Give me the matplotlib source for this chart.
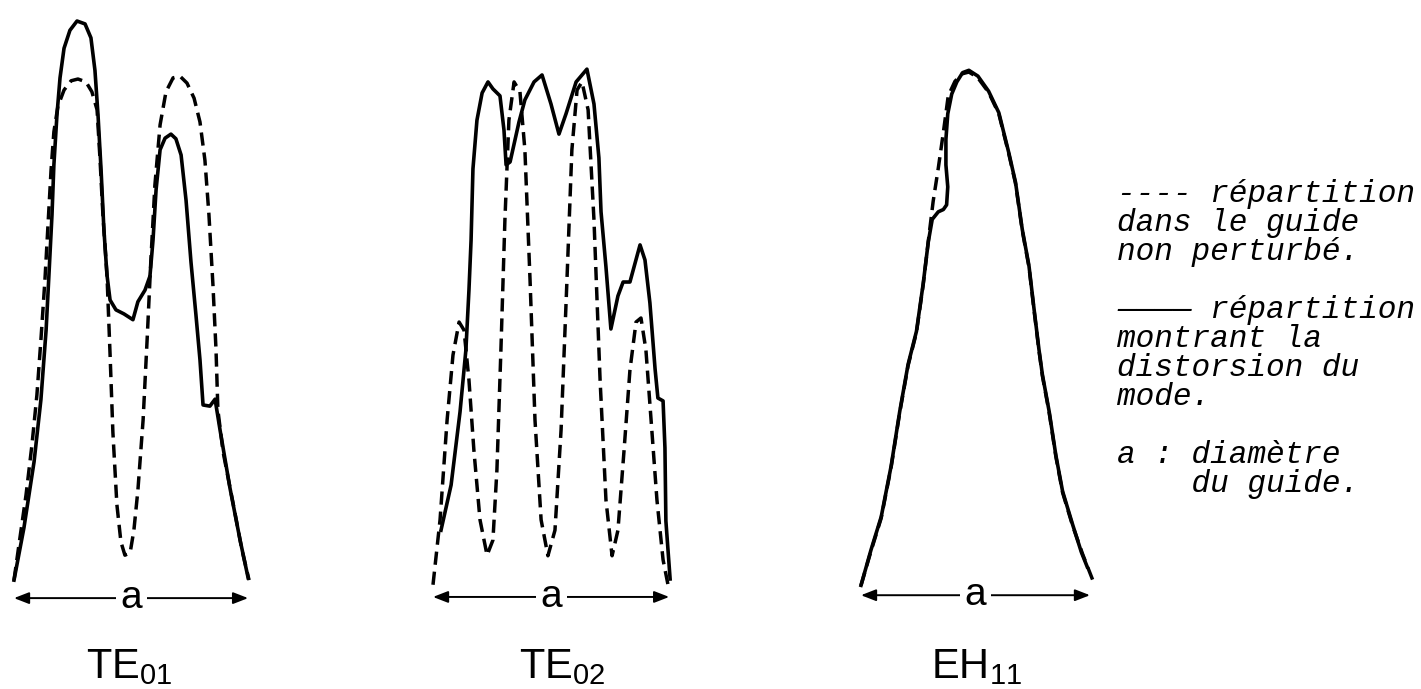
import matplotlib.pyplot as plt

plt.rcParams['font.family'] = ['Liberation Sans', 'DejaVu Sans']
plt.rcParams['mathtext.fontset'] = 'custom'
plt.rcParams['mathtext.rm'] = 'Liberation Sans'
plt.rcParams['mathtext.default'] = 'regular'

# position across the guide (% of diameter a) and relative amplitude (%)
te01_dash_x = [0, 2.1, 5.1, 7.6, 9.7, 11.4, 13.1, 14.4, 15.7, 16.9, 18.6, 21.2, 24.2, 27.1,
               30.5, 33.0, 35.2, 36.4, 37.7, 39.4, 40.7, 41.9, 43.6, 45.3, 47.0, 49.2, 50.8,
               52.5, 54.7, 56.4, 58.0, 59.7, 61.9, 64.4, 67.4, 70.3, 73.3, 76.3, 78.8, 80.9,
               82.6, 84.3, 85.6, 86.4, 88.6, 92.8, 96.6, 99.6]
te01_dash_y = [1.7, 7.8, 16.4, 25.0, 33.6, 43.1, 53.4, 62.9, 72.4, 79.0, 83.4, 86.2, 87.8, 88.1,
               87.6, 85.9, 82.8, 74.6, 64.5, 54.3, 40.7, 27.2, 14.7, 8.3, 6.0, 6.4, 10.3,
               17.2, 29.3, 43.1, 56.9, 69.8, 80.2, 85.9, 88.3, 88.6, 87.4, 84.8, 80.7, 74.1,
               64.7, 52.6, 41.4, 31.0, 23.8, 15.0, 6.9, 1.7]
te01_solid_x = [0, 4.2, 8.5, 11.4, 13.6, 14.8, 16.1, 16.9, 18.2, 19.5, 21.2, 23.7, 26.7, 30.1,
                32.6, 34.3, 35.6, 36.9, 38.1, 39.4, 40.7, 43.2, 46.6, 50.4, 52.5, 55.5, 57.6,
                58.9, 60.2, 61.9, 64.0, 66.5, 68.6, 70.8, 72.9, 75.0, 77.1, 78.8, 80.1, 83.0,
                85.2, 87.3, 91.5, 95.8, 99.2]
te01_solid_y = [1.7, 10.7, 22.1, 32.8, 44.8, 54.3, 64.7, 73.3, 81.9, 88.3, 93.4, 96.5, 98.1, 97.6,
                95.2, 89.6, 81.9, 72.4, 62.1, 54.3, 50.0, 48.3, 47.6, 46.6, 49.7, 51.7, 54.1,
                60.3, 69.0, 75.9, 77.9, 78.6, 77.8, 75.0, 67.2, 56.5, 47.4, 39.7, 31.9, 31.7,
                32.9, 27.6, 17.6, 8.6, 2.1]

te02_dash_x = [0, 3.0, 6.0, 8.5, 11.1, 13.2, 15.3, 17.4, 20.0, 23.0, 25.5, 27.2, 28.9, 30.6,
               32.3, 34.5, 37.0, 39.1, 41.3, 43.4, 46.0, 48.9, 51.9, 54.5, 57.0, 59.1, 61.3,
               63.4, 66.0, 68.5, 71.1, 73.6, 76.2, 78.7, 81.3, 83.8, 86.4, 88.5, 90.6, 92.8,
               95.3, 97.9, 100]
te02_dash_y = [0.9, 12.1, 29.3, 40.5, 46.2, 44.8, 36.2, 24.1, 12.1, 6.0, 8.6, 20.7, 41.4, 63.8,
               81.0, 87.6, 85.9, 75.9, 53.4, 29.3, 12.1, 5.9, 10.3, 27.6, 53.4, 75.9, 86.2,
               87.6, 82.8, 63.8, 36.2, 15.5, 5.9, 10.3, 24.1, 37.9, 46.2, 46.9, 41.4, 29.3,
               15.5, 5.2, 0.9]
te02_solid_x = [3.4, 7.7, 11.5, 14.0, 15.3, 16.2, 17.0, 18.7, 20.9, 23.4, 25.5, 28.5, 30.2, 31.1,
                32.8, 36.6, 39.1, 43.0, 46.4, 50.2, 53.6, 56.6, 60.9, 65.5, 68.5, 70.6, 71.5,
                73.6, 75.7, 78.7, 80.9, 83.8, 88.1, 90.2, 92.3, 94.5, 95.7, 97.9, 98.7, 99.1,
                100.9]
te02_solid_y = [10.3, 18.1, 30.7, 41.4, 51.7, 60.3, 72.6, 81.0, 85.7, 87.6, 86.4, 85.2, 79.3, 73.3,
                73.8, 80.7, 84.5, 87.6, 88.8, 83.8, 78.6, 82.1, 87.6, 89.8, 83.8, 74.5, 65.2,
                55.7, 45.0, 50.7, 53.1, 53.1, 59.5, 56.9, 49.5, 38.1, 33.1, 32.6, 24.5, 11.9,
                1.9]

eh11_dash_x = [0, 4.3, 8.7, 13.0, 16.7, 20.3, 23.9, 26.8, 29.0, 31.1, 33.3, 35.5, 37.6, 40.5,
               43.6, 46.5, 50.2, 55.0, 59.4, 63.7, 66.6, 69.5, 72.4, 74.6, 76.7, 78.2, 81.1,
               84.0, 86.9, 91.2, 95.6, 99.9]
eh11_dash_y = [0.8, 6.7, 12.4, 21.2, 30.6, 38.7, 44.4, 52.6, 60.1, 67.0, 72.7, 78.9, 85.2, 87.7,
               89.0, 89.3, 88.4, 85.8, 82.1, 75.2, 70.1, 62.0, 55.7, 48.2, 41.3, 36.9, 30.6,
               23.0, 16.8, 11.1, 6.1, 1.7]
eh11_solid_x = [0, 4.3, 8.7, 13.0, 16.7, 20.3, 23.9, 26.8, 29.0, 30.7, 33.3, 35.5, 36.9, 37.4,
                36.6, 36.6, 37.4, 39.1, 41.3, 43.8, 46.5, 50.4, 55.0, 59.4, 63.7, 66.6, 69.5,
                72.4, 74.6, 76.7, 78.2, 81.1, 84.0, 86.9, 91.2, 95.0, 97.5]
eh11_solid_y = [0.8, 6.9, 12.6, 21.4, 30.8, 38.9, 44.6, 52.8, 60.0, 63.9, 65.2, 65.6, 66.4, 69.5,
                73.3, 77.7, 82.1, 85.5, 87.6, 89.2, 89.6, 88.6, 86.0, 82.3, 75.4, 70.3, 62.2,
                55.9, 48.4, 41.5, 37.1, 30.8, 23.2, 17.0, 11.3, 6.5, 4.0]

mode_names = ['TE$_{01}$', 'TE$_{02}$', 'EH$_{11}$']

legend_lines = ['---- répartition', 'dans le guide', 'non perturbé.',
                '———— répartition', 'montrant la', 'distorsion du', 'mode.',
                'a : diamètre', '    du guide.']

W, H = 1421, 689
fig = plt.figure(figsize=(W / 100, H / 100), dpi=100)

panel_px = [(14, 250), (433, 668), (861, 1093)]
arrow_end = [99.2, 100.5, 98.7]
arrow_y = [-1.4, -1.2, -0.9]
label_x = [49, 55, 50]
curves = [(te01_dash_x, te01_dash_y, te01_solid_x, te01_solid_y),
          (te02_dash_x, te02_dash_y, te02_solid_x, te02_solid_y),
          (eh11_dash_x, eh11_dash_y, eh11_solid_x, eh11_solid_y)]

for i, (l, r) in enumerate(panel_px):
    ax = fig.add_axes([l / W, (H - 610) / H, (r - l) / W, 600 / H])
    ax.set_xlim(0, 100)
    ax.set_ylim(-3.45, 100)
    ax.axis('off')
    dx, dy, sx, sy = curves[i]
    ax.plot(dx, dy, color='black', lw=2.5, dashes=(3.8, 2.0), clip_on=False)
    ax.plot(sx, sy, color='black', lw=2.6, solid_joinstyle='round', clip_on=False)
    ax.annotate('', xy=(0, arrow_y[i]), xytext=(arrow_end[i], arrow_y[i]),
                arrowprops=dict(arrowstyle='<|-|>,head_length=0.9,head_width=0.35',
                                lw=1.4, color='black', shrinkA=0, shrinkB=0),
                annotation_clip=False)
    ax.text(arrow_end[i] / 2, arrow_y[i], 'a', fontsize=28, ha='center', va='center',
            bbox=dict(boxstyle='square,pad=0.12', fc='white', ec='none'))
    ax.text(label_x[i], -15.2, mode_names[i], fontsize=30, ha='center', va='baseline')

baselines = [202, 231, 260, 318, 347, 376, 405, 463, 492]
for txt, yb in zip(legend_lines, baselines):
    fig.text(1117 / W, 1 - yb / H, txt, fontsize=22.4, family='Liberation Mono',
             style='italic', ha='left', va='baseline')

fig.savefig('out.png', dpi=100, facecolor='white')
